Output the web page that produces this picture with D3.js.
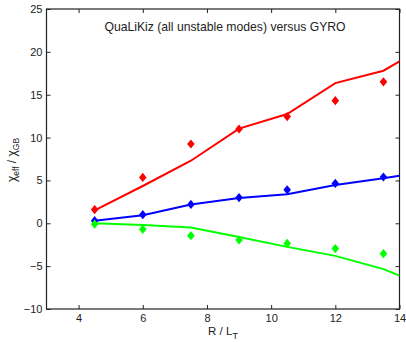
<!DOCTYPE html>
<html><head><meta charset="utf-8">
<script src="https://cdn.jsdelivr.net/npm/d3@7"></script>
<style>body{margin:0;background:#fff}svg{display:block}text{font-family:"Liberation Sans",Arial,sans-serif;fill:#222}</style>
</head><body>
<script>
const lineX = [4.5, 6, 7.5, 9, 10.5, 12, 13.5, 14];
const redLine = [1.5, 4.35, 7.3, 11.05, 12.75, 16.35, 17.8, 18.9];
const blueLine = [0.3, 0.93, 2.2, 2.95, 3.4, 4.47, 5.25, 5.55];
const greenLine = [0.0, -0.2, -0.5, -1.6, -2.75, -3.8, -5.35, -6.1];
const pointX = [4.5, 6, 7.5, 9, 10.5, 12, 13.5];
const redPts = [1.6, 5.35, 9.25, 11.0, 12.45, 14.3, 16.5];
const bluePts = [0.3, 1.0, 2.2, 3.0, 3.9, 4.65, 5.4];
const greenPts = [-0.1, -0.7, -1.45, -1.95, -2.35, -2.95, -3.55];
const xTicks = [4, 6, 8, 10, 12, 14];
const yTicks = [-10, -5, 0, 5, 10, 15, 20, 25];
const titleText = "QuaLiKiz (all unstable modes) versus GYRO";

const W = 406, H = 342;
const m = {l: 46.5, r: 6.5, t: 9, b: 33};
const svg = d3.select("body").append("svg").attr("width", W).attr("height", H);
const x = d3.scaleLinear().domain([3, 14]).range([m.l, W - m.r]);
const y = d3.scaleLinear().domain([-10, 25]).range([H - m.b, m.t]);

svg.append("defs").append("clipPath").attr("id", "clip").append("rect")
  .attr("x", x(3)).attr("y", y(25)).attr("width", x(14) - x(3)).attr("height", y(-10) - y(25));

const fs = "11px";
const gB = svg.append("g").attr("transform", `translate(0,${y(-10)})`)
  .call(d3.axisBottom(x).tickValues(xTicks).tickSizeInner(-4).tickSizeOuter(0).tickPadding(5.5));
const gT = svg.append("g").attr("transform", `translate(0,${y(25)})`)
  .call(d3.axisTop(x).tickValues(xTicks).tickSizeInner(-4).tickSizeOuter(0).tickFormat(""));
const gL = svg.append("g").attr("transform", `translate(${x(3)},0)`)
  .call(d3.axisLeft(y).tickValues(yTicks).tickSizeInner(-4).tickSizeOuter(0).tickPadding(4));
const gR = svg.append("g").attr("transform", `translate(${x(14)},0)`)
  .call(d3.axisRight(y).tickValues(yTicks).tickSizeInner(-4).tickSizeOuter(0).tickFormat(""));
[gB, gT, gL, gR].forEach(g => {
  g.select(".domain").remove();
  g.selectAll("line").attr("stroke", "#222");
  g.selectAll("text").style("font-size", fs).style("font-family", '"Liberation Sans",Arial,sans-serif').attr("fill", "#222");
});
svg.append("rect").attr("x", x(3)).attr("y", y(25)).attr("width", x(14) - x(3)).attr("height", y(-10) - y(25))
  .attr("fill", "none").attr("stroke", "#222").attr("stroke-width", 1.2);

const plot = svg.append("g").attr("clip-path", "url(#clip)");
const series = [
  {c: "#ff0000", l: redLine, p: redPts},
  {c: "#0000ff", l: blueLine, p: bluePts},
  {c: "#00ff00", l: greenLine, p: greenPts}
];
const line = d3.line().x((d, i) => x(lineX[i])).y(d => y(d));
series.forEach(s => {
  plot.append("path").datum(s.l).attr("d", line).attr("fill", "none")
    .attr("stroke", s.c).attr("stroke-width", 2);
});
const diamondShape = "M0,-4.6L3.8,0L0,4.6L-3.8,0Z";
series.forEach(s => {
  plot.selectAll(null).data(s.p).enter().append("path")
    .attr("d", diamondShape)
    .attr("transform", (d, i) => `translate(${x(pointX[i])},${y(d)})`)
    .attr("fill", s.c);
});

svg.append("text").attr("x", 225).attr("y", 31).attr("text-anchor", "middle")
  .style("font-size", "12.2px").text(titleText);

const xl = svg.append("text").attr("x", 223).attr("y", 335).attr("text-anchor", "middle").style("font-size", "11.5px");
xl.append("tspan").text("R / L");
xl.append("tspan").attr("dy", 3.5).style("font-size", "9px").text("T");

const yl = svg.append("text").attr("transform", "translate(16,160) rotate(-90)").attr("text-anchor", "middle").style("font-size", "12px");
yl.append("tspan").text("χ");
yl.append("tspan").attr("dy", 3).style("font-size", "8.5px").text("eff");
yl.append("tspan").attr("dy", -3).text(" / χ");
yl.append("tspan").attr("dy", 3).style("font-size", "8.5px").text("GB");
</script>
</body></html>
